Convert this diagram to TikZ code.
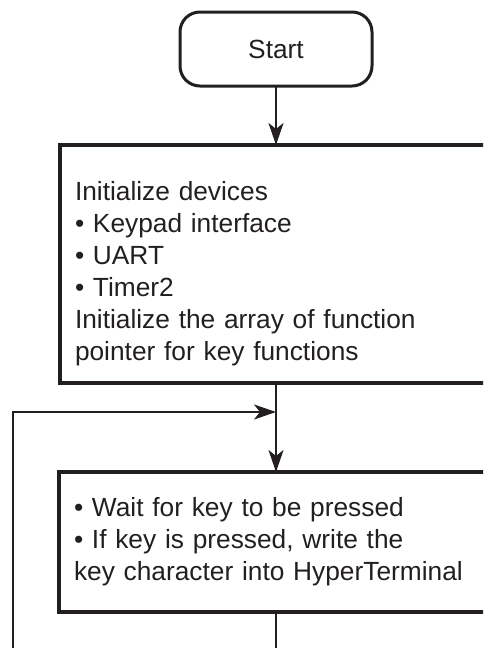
\documentclass[tikz,border=0pt]{standalone}
\usepackage{fontspec}
\setmainfont{Liberation Sans}
\usetikzlibrary{arrows.meta}
\definecolor{ink}{HTML}{231F20}
\tikzset{
  terminal/.style={draw=ink, line width=3pt, rounded corners=20pt, outer sep=0pt,
    minimum width=192pt, minimum height=74pt, text=ink, font=\fontsize{26.3}{32}\selectfont},
  flowbox/.style={draw=ink, line width=3.3pt, outer sep=0pt, anchor=north west, align=left,
    text width=440pt, inner xsep=15pt, text=ink, font=\fontsize{26.3}{32}\selectfont},
  flow/.style={draw=ink, line width=2.3pt, -{Stealth[length=22pt,width=15pt,inset=6pt]}},
  plain/.style={draw=ink, line width=2.3pt}
}
\begin{document}
\begin{tikzpicture}[x=1pt, y=-1pt]
  \useasboundingbox (0,0) rectangle (483,648);
  \clip (0,0) rectangle (483,648); % boxes run off the right and bottom edge

  \node[terminal] (start) at (276,49) {Start};

  \node[flowbox, minimum height=238pt] (init) at (60,145)
    {\rule{0pt}{38pt}Initialize devices\\
     \textbullet{} Keypad interface\\
     \textbullet{} UART\\
     \textbullet{} Timer2\\
     Initialize the array of function\\
     pointer for key functions};

  \node[flowbox, minimum height=140pt] (wait) at (59,472)
    {\textbullet{} Wait for key to be pressed\\
     \textbullet{} If key is pressed, write the\\
     key character into HyperTerminal};

  \coordinate (merge) at (276,412);
  \coordinate (loop) at (13,670);
  \coordinate (exit) at (276,670);

  \draw[flow] (start) -- (start |- init.north);
  \draw[flow] (init.south -| merge) -- (wait.north -| merge);
  \draw[flow] (loop) |- (merge);
  \draw[plain] (wait.south -| merge) -- (exit);
\end{tikzpicture}
\end{document}
